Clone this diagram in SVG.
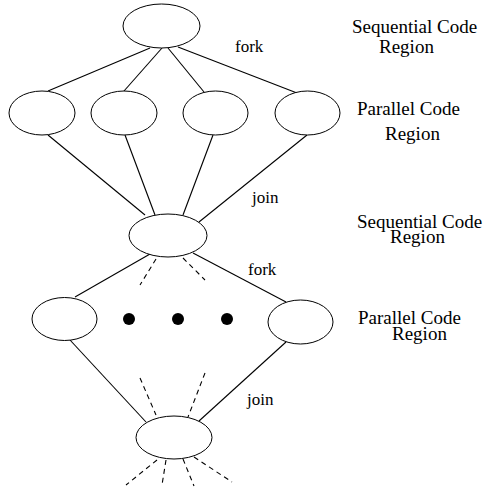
<svg xmlns="http://www.w3.org/2000/svg" width="485" height="488" viewBox="0 0 485 488">
<style>
.n{fill:#fff;stroke:#000;stroke-width:1}
.c line{stroke:#000;stroke-width:1.1}
.c .d{stroke-dasharray:5,4}
text{font-family:"Liberation Serif","Times New Roman",serif;fill:#000}
.lab{font-size:19px}
.sm{font-size:17px}
</style>
<rect width="485" height="488" fill="#fff"/>
<g id="connectors" class="c">
<line x1="150" y1="48" x2="48" y2="91"/>
<line x1="162" y1="48" x2="124" y2="91"/>
<line x1="168" y1="48" x2="204" y2="92"/>
<line x1="178" y1="47" x2="297" y2="93"/>
<line x1="48" y1="135" x2="145" y2="215"/>
<line x1="125" y1="135" x2="155" y2="215"/>
<line x1="213" y1="135" x2="183" y2="215"/>
<line x1="307" y1="135" x2="199" y2="222"/>
<line x1="150" y1="254" x2="75" y2="297"/>
<line x1="193" y1="253" x2="286" y2="302"/>
<line class="d" x1="156" y1="259" x2="140" y2="285"/>
<line class="d" x1="183" y1="258" x2="205" y2="280"/>
<line x1="70" y1="340" x2="146" y2="422"/>
<line x1="286" y1="342" x2="199" y2="421"/>
<line class="d" x1="140" y1="378" x2="156" y2="415"/>
<line class="d" x1="205" y1="373" x2="188" y2="417"/>
<line class="d" x1="157" y1="460" x2="126" y2="485"/>
<line class="d" x1="166" y1="460" x2="162" y2="485"/>
<line class="d" x1="183" y1="459" x2="194" y2="486"/>
<line class="d" x1="194" y1="457" x2="232" y2="482"/>
</g>
<g id="seq1"><ellipse class="n" cx="161.5" cy="26" rx="38.5" ry="22"/></g>
<g id="par1"><ellipse class="n" cx="42" cy="113" rx="33" ry="22"/></g>
<g id="par2"><ellipse class="n" cx="124" cy="113" rx="33" ry="22"/></g>
<g id="par3"><ellipse class="n" cx="215.5" cy="113" rx="32.5" ry="22"/></g>
<g id="par4"><ellipse class="n" cx="307.5" cy="113" rx="32.5" ry="22"/></g>
<g id="seq2"><ellipse class="n" cx="168" cy="235.5" rx="39" ry="21.5"/></g>
<g id="par5"><ellipse class="n" cx="64.5" cy="319" rx="32.5" ry="21.5"/></g>
<g id="par6"><ellipse class="n" cx="300.5" cy="322" rx="32.5" ry="22"/></g>
<g id="dots">
<circle cx="129" cy="319" r="6"/>
<circle cx="178" cy="319" r="6"/>
<circle cx="227" cy="319" r="6"/>
</g>
<g id="seq3"><ellipse class="n" cx="174" cy="437.5" rx="38" ry="21.5"/></g>
<g id="labels">
<text class="sm" x="235" y="52">fork</text>
<text class="sm" x="252" y="203">join</text>
<text class="sm" x="248" y="275">fork</text>
<text class="sm" x="247" y="405">join</text>
<text class="lab" x="352" y="33">Sequential Code</text>
<text class="lab" x="379" y="53">Region</text>
<text class="lab" x="357" y="115">Parallel Code</text>
<text class="lab" x="385" y="140">Region</text>
<text class="lab" x="357" y="228">Sequential Code</text>
<text class="lab" x="390" y="243">Region</text>
<text class="lab" x="358" y="324">Parallel Code</text>
<text class="lab" x="392" y="340">Region</text>
</g>
</svg>
